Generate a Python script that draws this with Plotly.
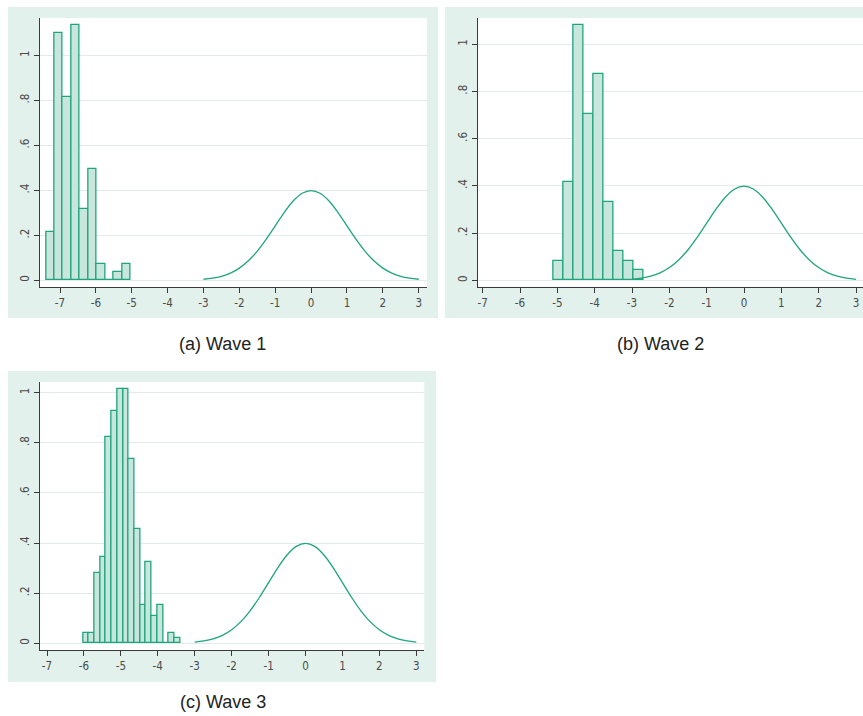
import plotly.graph_objects as go

# ---------------- data ----------------
# Wave 1 histogram (density)
w1_start = -7.39
w1_width = 0.236
w1_density = [0.213, 1.099, 0.815, 1.136, 0.318, 0.496, 0.071, 0.0, 0.036, 0.071]

# Wave 2 histogram (density)
w2_start = -5.098
w2_width = 0.2664
w2_density = [0.083, 0.417, 1.083, 0.706, 0.874, 0.333, 0.125, 0.083, 0.042]

# Wave 3 histogram (density)
w3_start = -6.025
w3_width = 0.155
w3_density = [0.042, 0.042, 0.282, 0.346, 0.822, 0.929, 1.016, 1.016, 0.736,
              0.455, 0.152, 0.325, 0.108, 0.152, 0.0, 0.042, 0.022]

# reference normal density curve
curve_x = [-3, -2.75, -2.5, -2.25, -2, -1.75, -1.5, -1.25, -1, -0.75, -0.5, -0.25, 0,
           0.25, 0.5, 0.75, 1, 1.25, 1.5, 1.75, 2, 2.25, 2.5, 2.75, 3]
curve_y = [0.0044, 0.0091, 0.0175, 0.0317, 0.0540, 0.0863, 0.1295, 0.1826, 0.2420,
           0.3011, 0.3521, 0.3867, 0.3989, 0.3867, 0.3521, 0.3011, 0.2420, 0.1826,
           0.1295, 0.0863, 0.0540, 0.0317, 0.0175, 0.0091, 0.0044]

x_ticks = [-7, -6, -5, -4, -3, -2, -1, 0, 1, 2, 3]
y_ticks = [0, 0.2, 0.4, 0.6, 0.8, 1.0]
y_ticklabels = ["0", ".2", ".4", ".6", ".8", "1"]
captions = ["(a) Wave 1", "(b) Wave 2", "(c) Wave 3"]

# ---------------- style ----------------
W, H = 863, 716
TEAL = "#1ea47e"
FILL = "#c8e6dc"
OUTER = "#e2f1eb"
GRID = "#e1ebe7"
AXIS = "#3a3a3a"
TICKFONT = dict(family="DejaVu Sans Condensed, Liberation Sans", size=11.5, color="#4a4a4a")
CAPFONT = dict(family="Liberation Sans, Arial", size=18, color="#222222")

def px(x):
    return x / W

def py(y):
    return 1 - y / H

panels = [
    dict(data=(w1_start, w1_width, w1_density), outer=(8, 7, 438, 318),
         plot=(39.5, 18, 427, 287), xr=[-7.572, 3.231], yr=[-0.030, 1.166],
         cap=(222, 344)),
    dict(data=(w2_start, w2_width, w2_density), outer=(445, 7, 880, 318),
         plot=(477.5, 18, 863, 286.7), xr=[-7.139, 3.187], yr=[-0.027, 1.111],
         cap=(660, 344)),
    dict(data=(w3_start, w3_width, w3_density), outer=(8, 371, 436, 682),
         plot=(39.5, 382, 424.3, 650), xr=[-7.203, 3.217], yr=[-0.027, 1.043],
         cap=(223, 702)),
]

fig = go.Figure()
shapes = []
annotations = []

for i, p in enumerate(panels):
    n = i + 1
    xa = "x" if n == 1 else f"x{n}"
    ya = "y" if n == 1 else f"y{n}"
    start, width, dens = p["data"]
    centers = [start + width * (k + 0.5) for k in range(len(dens))]
    fig.add_trace(go.Bar(
        x=centers, y=dens, width=width, xaxis=xa, yaxis=ya,
        marker=dict(color=FILL, line=dict(color=TEAL, width=1.3)),
        showlegend=False, hoverinfo="skip"))
    fig.add_trace(go.Scatter(
        x=curve_x, y=curve_y, mode="lines", xaxis=xa, yaxis=ya,
        line=dict(color=TEAL, width=1.3, shape="spline"),
        showlegend=False, hoverinfo="skip"))

    ox0, oy0, ox1, oy1 = p["outer"]
    shapes.append(dict(type="rect", xref="paper", yref="paper",
                       x0=px(ox0), x1=px(ox1), y0=py(oy1), y1=py(oy0),
                       fillcolor=OUTER, line=dict(width=0), layer="below"))
    qx0, qy0, qx1, qy1 = p["plot"]
    shapes.append(dict(type="rect", xref="paper", yref="paper",
                       x0=px(qx0), x1=px(qx1), y0=py(qy1), y1=py(qy0),
                       fillcolor="white", line=dict(width=0), layer="below"))

    xkey = "xaxis" if n == 1 else f"xaxis{n}"
    ykey = "yaxis" if n == 1 else f"yaxis{n}"
    fig.update_layout(**{
        xkey: dict(domain=[px(qx0), px(qx1)], range=p["xr"], anchor=ya,
                   tickmode="array", tickvals=x_ticks,
                   ticktext=[str(t) for t in x_ticks],
                   showgrid=False, zeroline=False, showline=True,
                   linecolor=AXIS, linewidth=1, ticks="outside", ticklen=5,
                   tickcolor=AXIS, tickfont=TICKFONT, fixedrange=True),
        ykey: dict(domain=[py(qy1), py(qy0)], range=p["yr"], anchor=xa,
                   tickmode="array", tickvals=y_ticks, ticktext=y_ticklabels,
                   tickangle=-90, showgrid=True, gridcolor=GRID, gridwidth=1,
                   zeroline=False, showline=True, linecolor=AXIS, linewidth=1,
                   ticks="outside", ticklen=5, tickcolor=AXIS,
                   tickfont=TICKFONT, fixedrange=True),
    })
    cx, cy = p["cap"]
    annotations.append(dict(text=captions[i], xref="paper", yref="paper",
                            x=px(cx), y=py(cy), xanchor="center", yanchor="middle",
                            showarrow=False, font=CAPFONT))

fig.update_layout(
    width=W, height=H, margin=dict(l=0, r=0, t=0, b=0),
    paper_bgcolor="white", plot_bgcolor="rgba(0,0,0,0)",
    bargap=0, shapes=shapes, annotations=annotations,
)

fig.write_html("out.html")
